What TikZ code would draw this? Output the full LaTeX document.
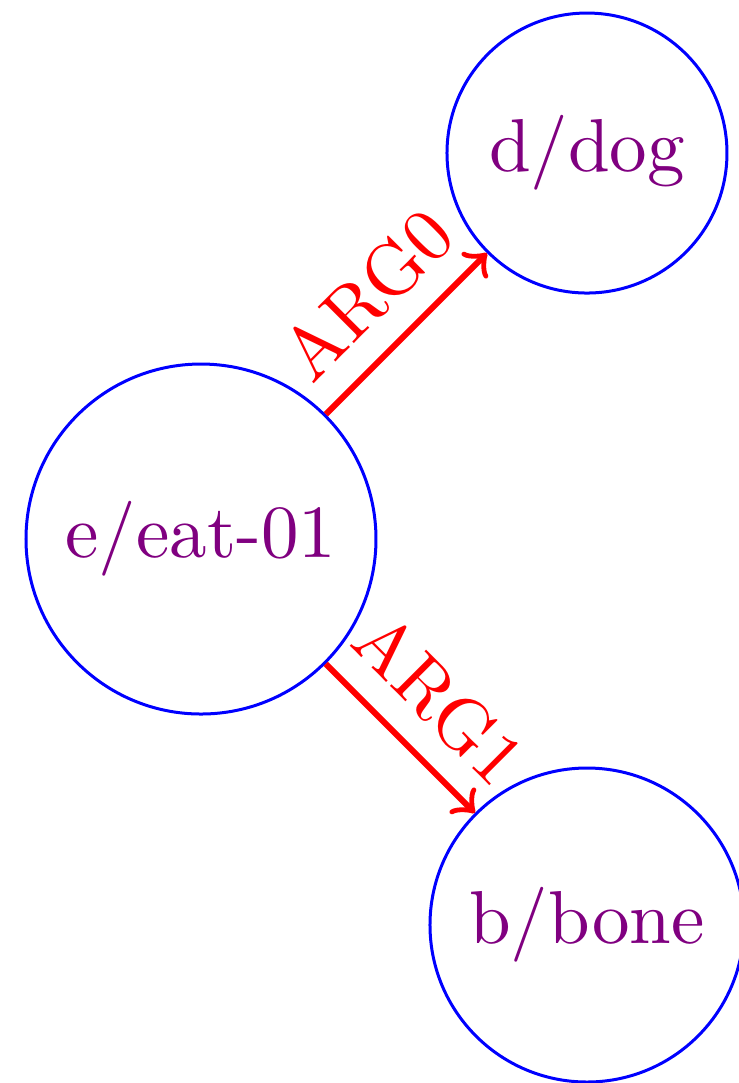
\documentclass[tikz,border=0pt]{standalone}
\definecolor{nodetext}{RGB}{128,0,128}
\begin{document}
\begin{tikzpicture}[x=0.1333pt,y=-0.1333pt,
  concept/.style={circle,draw=blue,line width=0.4pt,text=nodetext,inner sep=0pt,font=\fontsize{10}{12}\selectfont},
  rel/.style={draw=red,line width=0.8pt,->},
  lab/.style={text=red,sloped,above,font=\fontsize{10}{12}\selectfont}]
\useasboundingbox (0,0) rectangle (739,1083);
\node[concept,minimum size=350*0.1333pt] (e) at (201,539) {e/eat-01};
\node[concept,minimum size=280*0.1333pt] (d) at (587,153) {d/dog};
\node[concept,minimum size=314*0.1333pt] (b) at (587,925) {b/bone};
\draw[rel] (e) -- node[lab]{ARG0} (d);
\draw[rel] (e) -- node[lab]{ARG1} (b);
\end{tikzpicture}
\end{document}
